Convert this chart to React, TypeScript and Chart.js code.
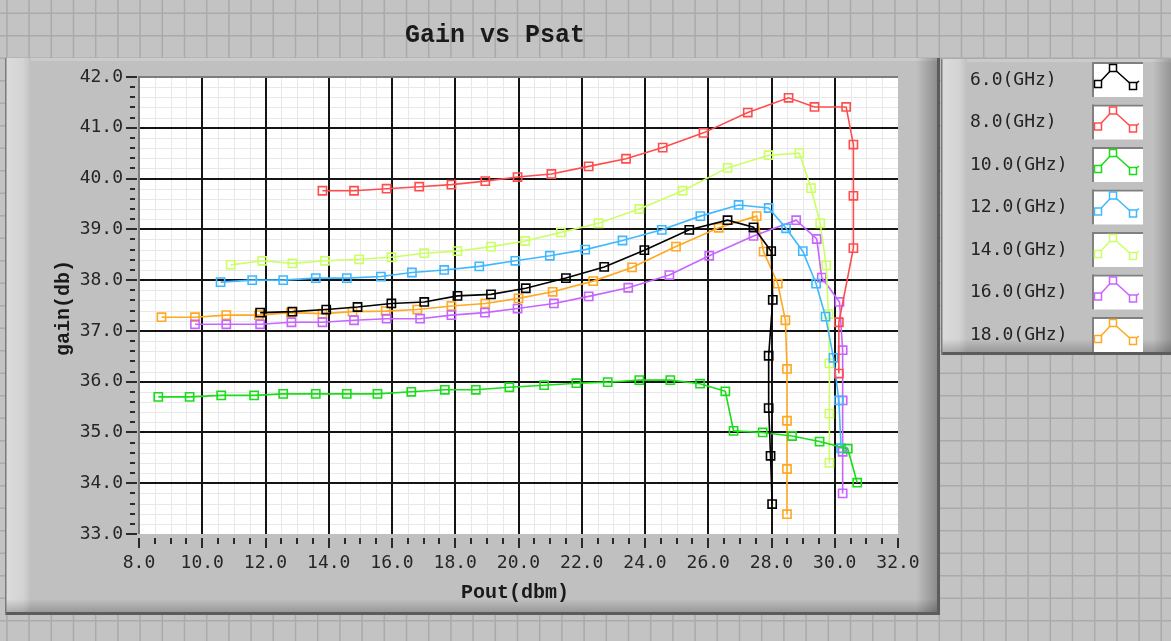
import React, { useEffect, useRef } from 'react';
import { Chart, registerables } from 'chart.js';

Chart.register(...registerables);

const chartTitle = 'Gain vs Psat';
const xAxisTitle = 'Pout(dbm)';
const yAxisTitle = 'gain(db)';

const seriesLabels = ['6.0(GHz)', '8.0(GHz)', '10.0(GHz)', '12.0(GHz)', '14.0(GHz)', '16.0(GHz)', '18.0(GHz)'];
const seriesColors = ['#000000', '#ff4d4d', '#18dd18', '#40b8ff', '#ccff66', '#c864ff', '#ffa820'];

const pout6 = [11.83, 12.85, 13.92, 14.91, 15.98, 17.02, 18.07, 19.13, 20.23, 21.5, 22.71, 23.98, 25.4, 26.61, 27.43, 27.99, 28.04, 27.91, 27.91, 27.97, 28.02];
const gain6 = [37.36, 37.38, 37.42, 37.47, 37.54, 37.57, 37.69, 37.72, 37.84, 38.04, 38.26, 38.59, 38.99, 39.18, 39.04, 38.57, 37.61, 36.51, 35.48, 34.54, 33.59];

const pout8 = [13.8, 14.8, 15.83, 16.86, 17.88, 18.95, 19.97, 21.04, 22.22, 23.4, 24.56, 25.85, 27.25, 28.54, 29.36, 30.36, 30.59, 30.59, 30.59, 30.13, 30.13];
const gain8 = [39.76, 39.76, 39.8, 39.84, 39.88, 39.95, 40.03, 40.09, 40.24, 40.39, 40.61, 40.9, 41.3, 41.59, 41.41, 41.41, 40.67, 39.66, 38.63, 37.17, 36.16];

const pout10 = [8.61, 9.6, 10.6, 11.64, 12.56, 13.59, 14.57, 15.54, 16.61, 17.67, 18.65, 19.71, 20.81, 21.83, 22.82, 23.82, 24.8, 25.74, 26.54, 26.8, 27.72, 28.65, 29.52, 30.41, 30.71];
const gain10 = [35.7, 35.7, 35.73, 35.73, 35.76, 35.76, 35.76, 35.76, 35.8, 35.84, 35.84, 35.89, 35.93, 35.97, 35.99, 36.03, 36.03, 35.96, 35.81, 35.03, 35.0, 34.93, 34.82, 34.68, 34.01];

const pout12 = [10.58, 11.58, 12.56, 13.59, 14.57, 15.65, 16.63, 17.65, 18.76, 19.9, 20.99, 22.11, 23.29, 24.53, 25.75, 26.96, 27.91, 28.46, 28.99, 29.41, 29.71, 29.96, 30.13, 30.2];
const gain12 = [37.96, 38.0, 38.0, 38.04, 38.04, 38.07, 38.15, 38.2, 38.27, 38.38, 38.48, 38.6, 38.78, 38.99, 39.26, 39.48, 39.42, 39.02, 38.57, 37.93, 37.28, 36.47, 35.63, 34.69];

const pout14 = [10.9, 11.9, 12.85, 13.88, 14.96, 15.98, 17.02, 18.07, 19.13, 20.21, 21.34, 22.53, 23.82, 25.19, 26.61, 27.91, 28.88, 29.25, 29.54, 29.73, 29.8, 29.83, 29.83, 29.83];
const gain14 = [38.3, 38.38, 38.33, 38.38, 38.41, 38.45, 38.53, 38.57, 38.66, 38.77, 38.94, 39.12, 39.4, 39.76, 40.21, 40.46, 40.5, 39.81, 39.12, 38.29, 37.33, 36.36, 35.37, 34.4];

const pout16 = [9.77, 10.76, 11.83, 12.82, 13.8, 14.8, 15.83, 16.89, 17.88, 18.94, 19.97, 21.12, 22.22, 23.47, 24.77, 26.03, 27.43, 28.78, 29.43, 29.59, 30.15, 30.25, 30.25, 30.25, 30.25];
const gain16 = [37.13, 37.13, 37.13, 37.17, 37.17, 37.21, 37.24, 37.24, 37.31, 37.36, 37.44, 37.54, 37.68, 37.85, 38.1, 38.48, 38.87, 39.18, 38.81, 38.05, 37.57, 36.62, 35.63, 34.62, 33.8];

const pout18 = [8.71, 9.77, 10.76, 11.79, 12.8, 13.8, 14.75, 15.8, 16.8, 17.88, 18.95, 20.0, 21.08, 22.36, 23.59, 24.98, 26.33, 27.53, 27.75, 28.2, 28.44, 28.49, 28.49, 28.49, 28.49];
const gain18 = [37.27, 37.27, 37.31, 37.31, 37.36, 37.34, 37.38, 37.39, 37.42, 37.49, 37.54, 37.64, 37.77, 37.98, 38.25, 38.66, 39.03, 39.26, 38.56, 37.93, 37.21, 36.25, 35.23, 34.28, 33.39];

const poutSeries = [pout6, pout8, pout10, pout12, pout14, pout16, pout18];
const gainSeries = [gain6, gain8, gain10, gain12, gain14, gain16, gain18];

const xTickLabels = ['8.0', '10.0', '12.0', '14.0', '16.0', '18.0', '20.0', '22.0', '24.0', '26.0', '28.0', '30.0', '32.0'];
const yTickLabels = ['33.0', '34.0', '35.0', '36.0', '37.0', '38.0', '39.0', '40.0', '41.0', '42.0'];
const xMinorDivs = 4;
const yMinorDivs = 5;

const CANVAS_W = 1171;
const CANVAS_H = 641;
const MONO = "'DejaVu Sans Mono', monospace";
const SERIF_MONO = "'Liberation Mono', 'Courier New', monospace";

function drawPanel(ctx: CanvasRenderingContext2D, x: number, y: number, w: number, h: number) {
  ctx.fillStyle = '#c0c0c0';
  ctx.fillRect(x, y, w, h);
  ctx.fillStyle = '#cbcbcb';
  ctx.fillRect(x, y, w, 3);
  let g = ctx.createLinearGradient(x, 0, x + 26, 0);
  g.addColorStop(0, '#dcdcdc');
  g.addColorStop(0.7, '#d3d3d3');
  g.addColorStop(1, '#c0c0c0');
  ctx.fillStyle = g;
  ctx.fillRect(x, y, 26, h);
  g = ctx.createLinearGradient(x + w - 24, 0, x + w, 0);
  g.addColorStop(0, 'rgba(0,0,0,0)');
  g.addColorStop(1, 'rgba(0,0,0,0.3)');
  ctx.fillStyle = g;
  ctx.fillRect(x + w - 24, y, 24, h);
  g = ctx.createLinearGradient(0, y + h - 16, 0, y + h);
  g.addColorStop(0, 'rgba(0,0,0,0)');
  g.addColorStop(1, 'rgba(0,0,0,0.25)');
  ctx.fillStyle = g;
  ctx.fillRect(x, y + h - 16, w, 16);
  ctx.fillStyle = '#5c5c5c';
  ctx.fillRect(x + w - 3, y, 3, h);
  ctx.fillRect(x, y + h - 3, w, 3);
  ctx.fillStyle = '#7a7a7a';
  ctx.fillRect(x, y, 1.5, h);
}

function majorValues(labels: string[]) {
  return labels.map((l) => parseFloat(l));
}

function minorValues(labels: string[], divs: number) {
  const m = majorValues(labels);
  const out: number[] = [];
  for (let i = 0; i < m.length - 1; i++) {
    for (let k = 1; k < divs; k++) out.push(m[i] + ((m[i + 1] - m[i]) * k) / divs);
  }
  return out;
}

const lvPlugin = {
  id: 'lvPanel',
  beforeDraw(chart: any) {
    const ctx: CanvasRenderingContext2D = chart.ctx;
    ctx.save();
    ctx.fillStyle = '#c3c3c3';
    ctx.fillRect(0, 0, CANVAS_W, CANVAS_H);
    ctx.strokeStyle = '#aaaaaa';
    ctx.lineWidth = 1.5;
    ctx.beginPath();
    for (let x = 6.9; x < CANVAS_W; x += 22.2) {
      ctx.moveTo(x, 0);
      ctx.lineTo(x, CANVAS_H);
    }
    for (let y = 13.3; y < CANVAS_H; y += 22.5) {
      ctx.moveTo(0, y);
      ctx.lineTo(CANVAS_W, y);
    }
    ctx.stroke();
    drawPanel(ctx, 5, 58, 935, 557);
    drawPanel(ctx, 941, 59, 236, 296);
    const a = chart.chartArea;
    ctx.fillStyle = '#ffffff';
    ctx.fillRect(a.left, a.top, a.right - a.left, a.bottom - a.top);
    ctx.restore();
  },
  beforeDatasetsDraw(chart: any) {
    const ctx: CanvasRenderingContext2D = chart.ctx;
    const a = chart.chartArea;
    const xs = chart.scales.x;
    const ys = chart.scales.y;
    ctx.save();
    ctx.strokeStyle = '#e8e8e8';
    ctx.lineWidth = 1;
    ctx.beginPath();
    minorValues(xTickLabels, xMinorDivs).forEach((v) => {
      const p = Math.round(xs.getPixelForValue(v)) + 0.5;
      ctx.moveTo(p, a.top);
      ctx.lineTo(p, a.bottom);
    });
    minorValues(yTickLabels, yMinorDivs).forEach((v) => {
      const p = Math.round(ys.getPixelForValue(v)) + 0.5;
      ctx.moveTo(a.left, p);
      ctx.lineTo(a.right, p);
    });
    ctx.stroke();
    ctx.strokeStyle = '#141414';
    ctx.lineWidth = 2;
    ctx.beginPath();
    const xm = majorValues(xTickLabels);
    xm.slice(1, -1).forEach((v) => {
      const p = Math.round(xs.getPixelForValue(v));
      ctx.moveTo(p, a.top);
      ctx.lineTo(p, a.bottom);
    });
    const ym = majorValues(yTickLabels);
    ym.slice(1, -1).forEach((v) => {
      const p = Math.round(ys.getPixelForValue(v));
      ctx.moveTo(a.left, p);
      ctx.lineTo(a.right, p);
    });
    ctx.stroke();
    ctx.fillStyle = '#7c7c7c';
    ctx.fillRect(a.left - 1, a.top - 1, a.right - a.left + 1, 2);
    ctx.fillRect(a.left - 1, a.top - 1, 2, a.bottom - a.top + 1);
    ctx.restore();
  },
  afterDraw(chart: any) {
    const ctx: CanvasRenderingContext2D = chart.ctx;
    const a = chart.chartArea;
    const xs = chart.scales.x;
    const ys = chart.scales.y;
    ctx.save();
    // tick marks
    ctx.fillStyle = '#2a2a2a';
    majorValues(yTickLabels).forEach((v) => {
      const p = Math.round(ys.getPixelForValue(v));
      ctx.fillRect(a.left - 13, p - 1, 11, 2);
    });
    minorValues(yTickLabels, yMinorDivs).forEach((v) => {
      const p = Math.round(ys.getPixelForValue(v));
      ctx.fillRect(a.left - 9, p - 1, 5, 2);
    });
    majorValues(xTickLabels).forEach((v) => {
      const p = Math.round(xs.getPixelForValue(v));
      ctx.fillRect(p - 1, a.bottom + 4, 2, 10);
    });
    minorValues(xTickLabels, xMinorDivs).forEach((v) => {
      const p = Math.round(xs.getPixelForValue(v));
      ctx.fillRect(p - 1, a.bottom + 4, 2, 6);
    });
    // titles
    ctx.fillStyle = '#1a1a1a';
    ctx.textAlign = 'center';
    ctx.textBaseline = 'middle';
    ctx.font = `bold 25px ${SERIF_MONO}`;
    ctx.fillText(chartTitle, 495, 36);
    ctx.font = `bold 20px ${SERIF_MONO}`;
    ctx.fillText(xAxisTitle, 515, 593);
    ctx.save();
    ctx.translate(64, 308);
    ctx.rotate(-Math.PI / 2);
    ctx.fillText(yAxisTitle, 0, 0);
    ctx.restore();
    // legend
    chart.data.datasets.forEach((ds: any, i: number) => {
      const y0 = 62 + 42.5 * i;
      ctx.fillStyle = '#242424';
      ctx.font = `18px ${MONO}`;
      ctx.textAlign = 'left';
      ctx.textBaseline = 'middle';
      ctx.fillText(ds.label, 970, y0 + 18);
      ctx.fillStyle = '#ffffff';
      ctx.fillRect(1092, y0, 51, 35);
      ctx.fillStyle = '#808080';
      ctx.fillRect(1092, y0, 51, 2);
      ctx.fillRect(1092, y0, 2, 35);
      const pts = [
        [1098, y0 + 22],
        [1113, y0 + 6],
        [1133, y0 + 24],
      ];
      ctx.strokeStyle = ds.borderColor;
      ctx.lineWidth = 1.5;
      ctx.beginPath();
      ctx.moveTo(pts[0][0], pts[0][1]);
      ctx.lineTo(pts[1][0], pts[1][1]);
      ctx.lineTo(pts[2][0], pts[2][1]);
      ctx.lineTo(1139, y0 + 19);
      ctx.stroke();
      pts.forEach(([px, py]) => {
        ctx.fillStyle = '#ffffff';
        ctx.fillRect(px - 3.5, py - 3.5, 7, 7);
        ctx.strokeRect(px - 3.5, py - 3.5, 7, 7);
      });
    });
    ctx.restore();
  },
};

export default function App() {
  const canvasRef = useRef<HTMLCanvasElement | null>(null);

  useEffect(() => {
    const canvas = canvasRef.current;
    if (!canvas) return;
    const datasets = seriesLabels.map((label, i) => ({
      label,
      data: poutSeries[i].map((x, j) => ({ x, y: gainSeries[i][j] })),
      borderColor: seriesColors[i],
      backgroundColor: 'rgba(0,0,0,0)',
      pointBorderColor: seriesColors[i],
      pointBackgroundColor: 'rgba(0,0,0,0)',
      pointStyle: 'rect',
      pointRadius: 5.8,
      pointBorderWidth: 1.6,
      borderWidth: 1.6,
      showLine: true,
      tension: 0,
    }));
    const chart = new Chart(canvas, {
      type: 'scatter',
      data: { datasets },
      options: {
        animation: false,
        responsive: false,
        devicePixelRatio: 1,
        layout: { padding: { left: 0, right: CANVAS_W - 898, top: 77, bottom: 0 } },
        plugins: {
          legend: { display: false },
          title: { display: false },
          tooltip: { enabled: false },
        },
        scales: {
          x: {
            type: 'linear',
            min: 8,
            max: 32,
            afterFit: (s: any) => {
              s.height = CANVAS_H - 534;
            },
            afterBuildTicks: (s: any) => {
              s.ticks = majorValues(xTickLabels).map((v) => ({ value: v }));
            },
            grid: { display: false, drawTicks: false },
            border: { display: false },
            ticks: {
              autoSkip: false,
              maxRotation: 0,
              padding: 19,
              color: '#262626',
              font: { family: MONO, size: 18 },
              callback: (_v: any, i: number) => xTickLabels[i],
            },
          },
          y: {
            type: 'linear',
            min: 33,
            max: 42,
            afterFit: (s: any) => {
              s.width = 139;
            },
            afterBuildTicks: (s: any) => {
              s.ticks = majorValues(yTickLabels).map((v) => ({ value: v }));
            },
            grid: { display: false, drawTicks: false },
            border: { display: false },
            ticks: {
              autoSkip: false,
              padding: 16,
              color: '#262626',
              font: { family: MONO, size: 18 },
              callback: (_v: any, i: number) => yTickLabels[i],
            },
          },
        },
      },
      plugins: [lvPlugin],
    } as any);
    return () => chart.destroy();
  }, []);

  return (
    <div style={{ position: 'fixed', left: 0, top: 0, width: CANVAS_W, height: CANVAS_H }}>
      <canvas ref={canvasRef} width={CANVAS_W} height={CANVAS_H} style={{ display: 'block' }} />
    </div>
  );
}
